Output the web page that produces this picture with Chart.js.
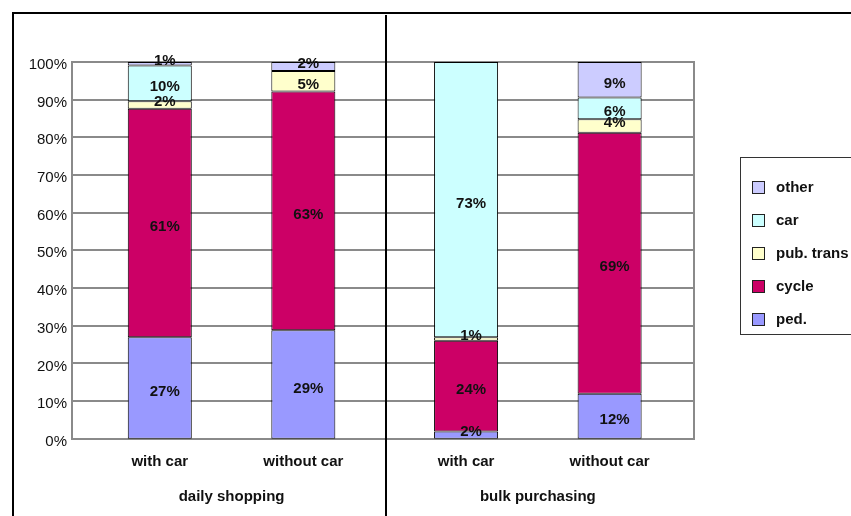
<!DOCTYPE html>
<html><head><meta charset="utf-8">
<script src="https://cdn.jsdelivr.net/npm/chart.js@4/dist/chart.umd.min.js"></script>
<style>html,body{margin:0;padding:0;background:#fff;overflow:hidden}#wrap{width:851px;height:516px;position:relative}</style>
</head><body><div id="wrap"><canvas id="c"></canvas></div>
<script>
// ---- data ----
const groups = ['daily shopping', 'bulk purchasing'];
const subCategories = ['with car', 'without car'];
const modes = ['ped.', 'cycle', 'pub. trans', 'car', 'other'];
// values per bar: [daily/with car, daily/without car, bulk/with car, bulk/without car]
const ped      = [26.9, 28.8, 1.9, 11.9];
const cycle    = [60.7, 63.4, 24.1, 69.3];
const pubTrans = [2.0, 5.4, 0.9, 3.6];
const car      = [9.5, 0, 73.1, 5.8];
const other    = [0.9, 2.4, 0, 9.4];
const yTickLabels = ['0%','10%','20%','30%','40%','50%','60%','70%','80%','90%','100%'];

// ---- styles ----
const modeColors = ['#9999FF', '#CC0066', '#FFFFCC', '#CCFFFF', '#CCCCFF'];
const FONT = '"Liberation Sans", Arial, sans-serif';
const GRID = '#8a8a8a';
const PLOT_LEFT = 72, PLOT_RIGHT = 694;

const series = [ped, cycle, pubTrans, car, other];
const datasets = [];
modes.forEach((m, mi) => {
  subCategories.forEach((s, si) => {
    datasets.push({
      label: m,
      stack: s,
      data: groups.map((g, gi) => series[mi][gi * 2 + si]),
      backgroundColor: modeColors[mi],
      borderColor: '#000',
      borderWidth: 1,
      borderSkipped: false,
      categoryPercentage: 0.9373,
      barPercentage: 0.446
    });
  });
});

const decor = {
  id: 'decor',
  beforeDraw(chart) {
    const ctx = chart.ctx;
    ctx.save();
    ctx.fillStyle = '#fff';
    ctx.fillRect(0, 0, chart.width, chart.height);
    ctx.restore();
  },
  beforeDatasetsDraw(chart) {
    // plot-area grid (horizontal lines at each y tick) and frame
    const ctx = chart.ctx;
    const ys = chart.scales.y;
    ctx.save();
    ctx.strokeStyle = GRID;
    ctx.lineWidth = 2;
    ctx.beginPath();
    ys.ticks.forEach(t => {
      const y = Math.round(ys.getPixelForValue(t.value));
      ctx.moveTo(PLOT_LEFT - 1, y);
      ctx.lineTo(PLOT_RIGHT + 1, y);
    });
    const top = Math.round(ys.getPixelForValue(100));
    const bot = Math.round(ys.getPixelForValue(0));
    ctx.moveTo(PLOT_LEFT, top);
    ctx.lineTo(PLOT_LEFT, bot + 1);
    ctx.moveTo(PLOT_RIGHT, top);
    ctx.lineTo(PLOT_RIGHT, bot + 1);
    ctx.stroke();
    ctx.restore();
  },
  afterDatasetsDraw(chart) {
    const ctx = chart.ctx;
    ctx.save();
    ctx.font = 'bold 15px ' + FONT;
    ctx.fillStyle = '#111';
    ctx.textAlign = 'center';
    ctx.textBaseline = 'middle';
    chart.data.datasets.forEach((ds, di) => {
      const meta = chart.getDatasetMeta(di);
      meta.data.forEach((el, i) => {
        const v = ds.data[i];
        if (!v) return;
        const h = Math.abs(el.base - el.y);
        const dy = h < 14 ? -3 : 4;
        ctx.fillText(Math.round(v) + '%', el.x + 5, (el.y + el.base) / 2 + dy);
      });
    });
    ctx.restore();
  },
  afterDraw(chart) {
    const ctx = chart.ctx;
    const xs = chart.scales.x;
    ctx.save();

    // category labels
    ctx.font = 'bold 15px ' + FONT;
    ctx.fillStyle = '#111';
    ctx.textAlign = 'center';
    ctx.textBaseline = 'middle';
    subCategories.forEach((s, si) => {
      const meta = chart.getDatasetMeta(si);
      meta.data.forEach((el) => {
        ctx.fillText(s, el.x, 462);
      });
    });
    groups.forEach((g, gi) => {
      ctx.fillText(g, xs.getPixelForValue(gi), 497);
    });

    // frame lines
    ctx.strokeStyle = '#000';
    ctx.lineWidth = 2;
    ctx.beginPath();
    ctx.moveTo(12, 13); ctx.lineTo(chart.width, 13);
    ctx.moveTo(13, 12); ctx.lineTo(13, chart.height);
    const sep = Math.round(xs.getPixelForValue(0.5)) + 1;
    ctx.moveTo(sep, 15); ctx.lineTo(sep, chart.height);
    ctx.stroke();

    // legend
    const lx = 740, ly = 157, lw = 140, lh = 177;
    ctx.fillStyle = '#fff';
    ctx.fillRect(lx, ly, lw, lh);
    ctx.strokeStyle = '#333';
    ctx.lineWidth = 1;
    ctx.strokeRect(lx + 0.5, ly + 0.5, lw, lh);
    ctx.font = 'bold 15px ' + FONT;
    ctx.textAlign = 'left';
    ctx.textBaseline = 'middle';
    const items = [];
    chart.data.datasets.forEach(ds => {
      if (!items.find(it => it.label === ds.label)) items.push({label: ds.label, color: ds.backgroundColor});
    });
    items.reverse().forEach((it, k) => {
      const cy = 188 + k * 33;
      ctx.fillStyle = it.color;
      ctx.fillRect(752.5, cy - 6.5, 12, 12);
      ctx.strokeStyle = '#222';
      ctx.strokeRect(752.5, cy - 6.5, 12, 12);
      ctx.fillStyle = '#111';
      ctx.fillText(it.label, 776, cy);
    });
    ctx.restore();
  }
};

new Chart(document.getElementById('c'), {
  type: 'bar',
  data: { labels: groups, datasets },
  options: {
    responsive: true,
    maintainAspectRatio: false,
    animation: false,
    devicePixelRatio: 1,
    layout: { padding: { top: 62, bottom: 77.3, left: 0, right: 160 } },
    plugins: { legend: { display: false }, tooltip: { enabled: false } },
    scales: {
      x: { display: false, stacked: true },
      y: {
        stacked: true,
        min: 0, max: 100,
        afterFit(scale) { scale.width = 78.4; },
        ticks: {
          stepSize: 10,
          padding: 11.4,
          labelOffset: 3,
          color: '#111',
          font: { family: FONT, size: 15 },
          callback: (v) => yTickLabels[Math.round(v / 10)]
        },
        grid: { display: false, drawTicks: false },
        border: { display: false }
      }
    }
  },
  plugins: [decor]
});
</script>
</body></html>
